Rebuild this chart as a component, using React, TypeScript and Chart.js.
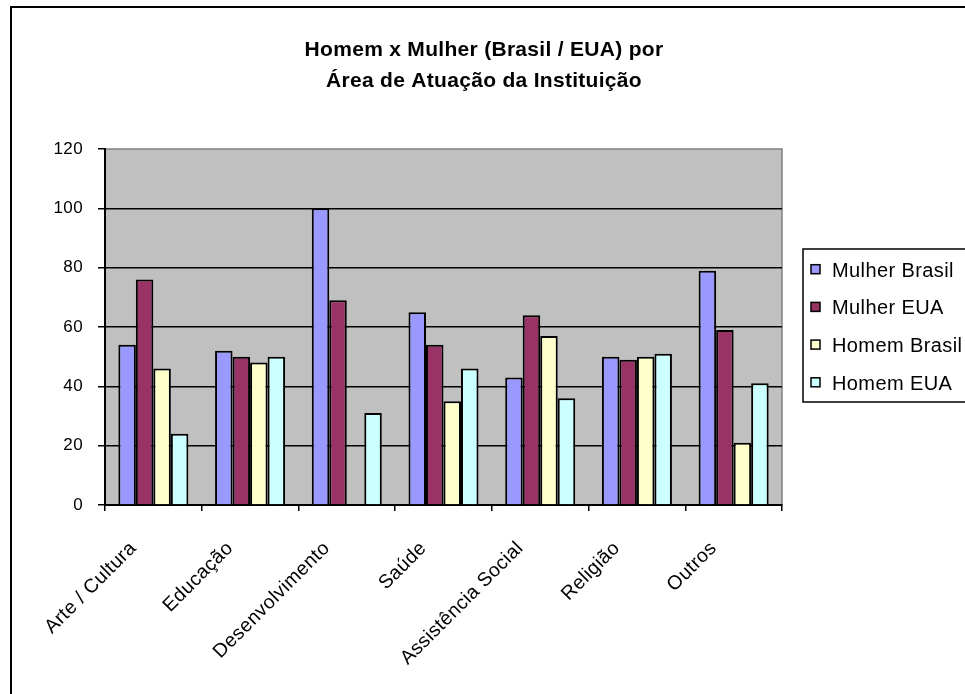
import React, { useEffect, useRef } from "react";
import { Chart, registerables } from "chart.js";

Chart.register(...registerables);

const categories = ["Arte / Cultura", "Educação", "Desenvolvimento", "Saúde", "Assistência Social", "Religião", "Outros"];
const seriesNames = ["Mulher Brasil", "Mulher EUA", "Homem Brasil", "Homem EUA"];
const mulherBrasil = [54, 52, 100, 65, 43, 50, 79];
const mulherEUA = [76, 50, 69, 54, 64, 49, 59];
const homemBrasil = [46, 48, null, 35, 57, 50, 21];
const homemEUA = [24, 50, 31, 46, 36, 51, 41];
const yTicks = [0, 20, 40, 60, 80, 100, 120];
const titleLines = ["Homem x Mulher (Brasil / EUA) por", "Área de Atuação da Instituição"];
const seriesColors = ["#9999FF", "#993366", "#FFFFCC", "#CCFFFF"];

const FAMILY = "'Liberation Sans', Arial, sans-serif";
const SPACING = "0.4px";

function setSpacing(ctx: any, v: string) {
  try { ctx.letterSpacing = v; } catch (e) {}
}

const decorPlugin = {
  id: "decor",
  beforeUpdate(chart: any) { setSpacing(chart.ctx, SPACING); },
  beforeLayout(chart: any) { setSpacing(chart.ctx, SPACING); },
  beforeDraw(chart: any) {
    const ctx = chart.ctx;
    const a = chart.chartArea;
    setSpacing(ctx, SPACING);
    ctx.save();
    ctx.fillStyle = "#ffffff";
    ctx.fillRect(0, 0, chart.width, chart.height);
    ctx.fillStyle = "#C0C0C0";
    ctx.fillRect(a.left, a.top, a.right - a.left, a.bottom - a.top);
    ctx.strokeStyle = "#808080";
    ctx.lineWidth = 1.5;
    ctx.strokeRect(a.left, a.top, a.right - a.left, a.bottom - a.top);
    ctx.strokeStyle = "#000000";
    ctx.lineWidth = 2;
    ctx.strokeRect(11, 7, 1000, 1000);
    ctx.restore();
  },
  afterDraw(chart: any) {
    const ctx = chart.ctx;
    ctx.save();
    // title
    setSpacing(ctx, "0.3px");
    ctx.fillStyle = "#000";
    ctx.font = `bold 21px ${FAMILY}`;
    ctx.textAlign = "center";
    ctx.textBaseline = "middle";
    titleLines.forEach((t, i) => ctx.fillText(t, 484, 50 + i * 31));
    // legend
    setSpacing(ctx, SPACING);
    ctx.strokeStyle = "#000";
    ctx.lineWidth = 1.5;
    ctx.strokeRect(803, 249, 200, 153);
    ctx.font = `20px ${FAMILY}`;
    ctx.textAlign = "left";
    ctx.textBaseline = "alphabetic";
    chart.data.datasets.forEach((ds: any, i: number) => {
      const base = 276.5 + i * 37.7;
      const cy = 269.2 + i * 37.7;
      ctx.fillStyle = ds.backgroundColor;
      ctx.fillRect(811, cy - 4.5, 9, 9);
      ctx.lineWidth = 1.5;
      ctx.strokeStyle = "#000";
      ctx.strokeRect(811, cy - 4.5, 9, 9);
      ctx.fillStyle = "#000";
      ctx.fillText(ds.label, 832, base);
    });
    ctx.restore();
    setSpacing(ctx, SPACING);
  },
};

export default function App() {
  const ref = useRef<HTMLCanvasElement | null>(null);
  useEffect(() => {
    if (!ref.current) return;
    const values = [mulherBrasil, mulherEUA, homemBrasil, homemEUA];
    const chart = new Chart(ref.current, {
      type: "bar",
      data: {
        labels: categories,
        datasets: seriesNames.map((name, i) => ({
          label: name,
          data: values[i],
          backgroundColor: seriesColors[i],
          borderColor: "#000000",
          borderWidth: 2,
          categoryPercentage: 0.724,
          barPercentage: 1,
        })),
      },
      options: {
        animation: false,
        responsive: false,
        devicePixelRatio: 1,
        layout: { padding: { top: 149, left: 0, right: 183, bottom: 0 } },
        plugins: {
          legend: { display: false },
          title: { display: false },
          tooltip: { enabled: false },
        },
        scales: {
          x: {
            grid: {
              display: true,
              offset: true,
              drawOnChartArea: false,
              drawTicks: true,
              tickLength: 6,
              color: "#000",
              lineWidth: 1.5,
            },
            border: { display: true, color: "#000", width: 2 },
            ticks: {
              autoSkip: false,
              maxRotation: 45,
              minRotation: 45,
              padding: 26,
              labelOffset: -20,
              color: "#000",
              font: { family: FAMILY, size: 19.5 },
            },
            afterFit: (s: any) => { s.height = 189; },
          },
          y: {
            min: yTicks[0],
            max: yTicks[yTicks.length - 1],
            afterBuildTicks: (s: any) => { s.ticks = yTicks.map((v) => ({ value: v })); },
            ticks: { padding: 15, color: "#000", font: { family: FAMILY, size: 17 } },
            grid: {
              color: (c: any) => (c.tick && c.tick.value === yTicks[yTicks.length - 1] ? "rgba(0,0,0,0)" : "#000"),
              tickColor: "#000",
              lineWidth: 1.5,
              tickLength: 7,
            },
            border: { display: true, color: "#000", width: 2 },
            afterFit: (s: any) => { s.width = 105; },
          },
        },
      },
      plugins: [decorPlugin],
    } as any);
    return () => chart.destroy();
  }, []);
  return (
    <div style={{ position: "absolute", left: 0, top: 0, width: 965, height: 694, background: "#fff" }}>
      <canvas ref={ref} width={965} height={694} style={{ display: "block", width: 965, height: 694 }} />
    </div>
  );
}
